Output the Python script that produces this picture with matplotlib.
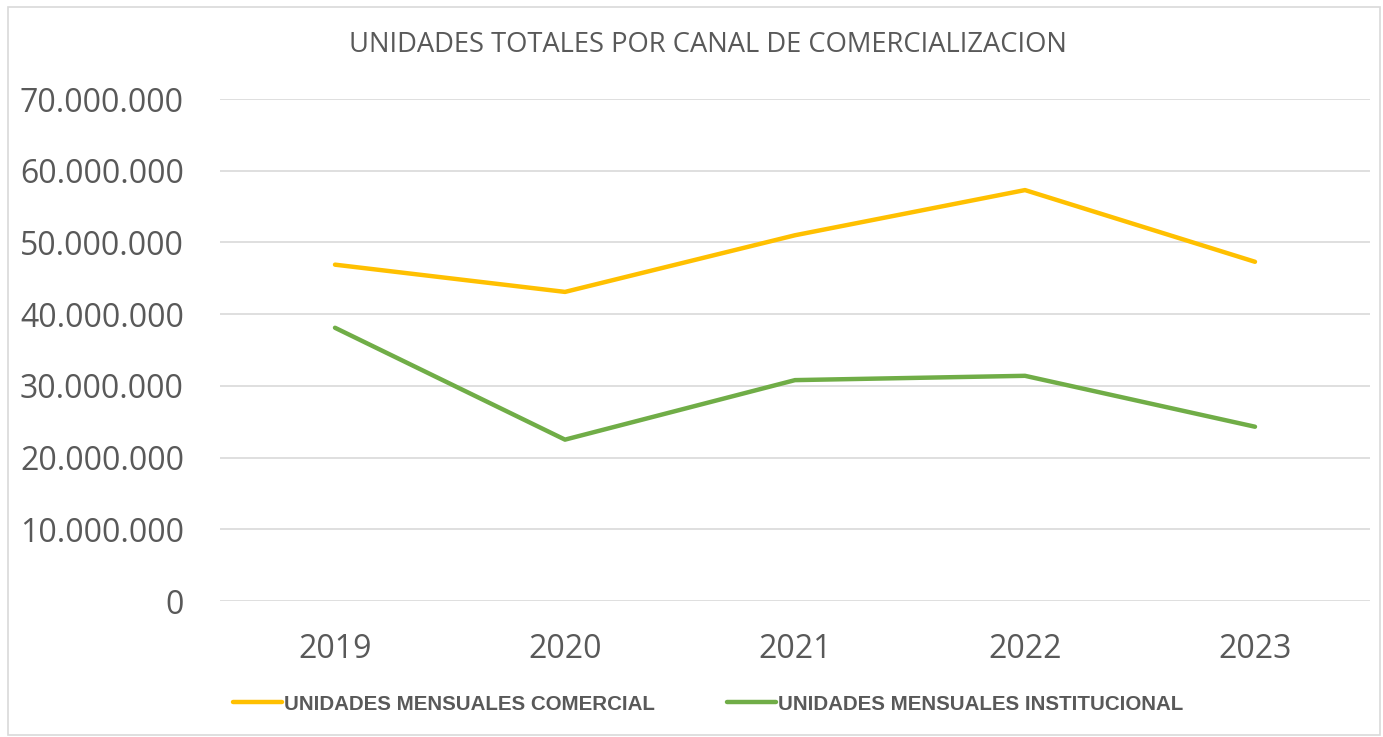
import matplotlib.pyplot as plt
from matplotlib.patches import Rectangle
from matplotlib.ticker import FuncFormatter

# data
years = ['2019', '2020', '2021', '2022', '2023']
comercial = [46900000, 43100000, 51000000, 57300000, 47300000]
institucional = [38100000, 22500000, 30800000, 31400000, 24300000]
yticks = [0, 10000000, 20000000, 30000000, 40000000, 50000000, 60000000, 70000000]

TEXT = '#595959'
GRID = '#D9D9D9'

plt.rcParams['font.family'] = ['Open Sans', 'DejaVu Sans']

fig = plt.figure(figsize=(13.83, 7.37), dpi=100)
W, H = 1383, 737
ax = fig.add_axes([220 / W, 1 - 601 / H, 1150 / W, 502 / H])

# outer chart border
fig.patches.append(Rectangle((8 / W, 2 / H), 1372 / W, 728 / H, transform=fig.transFigure,
                             fill=False, edgecolor=GRID, linewidth=1.2))

x = range(len(years))
ax.plot(x, comercial, color='#FFC000', linewidth=3.2, solid_capstyle='round',
        label='UNIDADES MENSUALES COMERCIAL')
ax.plot(x, institucional, color='#70AD47', linewidth=3.2, solid_capstyle='round',
        label='UNIDADES MENSUALES INSTITUCIONAL')

ax.set_xlim(-0.5, len(years) - 0.5)
ax.set_ylim(0, 70000000)
ax.set_yticks(yticks)
ax.yaxis.set_major_formatter(FuncFormatter(lambda v, p: f'{int(v):,}'.replace(',', '.')))
ax.set_xticks(list(x))
ax.set_xticklabels(years)
ax.grid(axis='y', color=GRID, linewidth=1.2)
ax.set_axisbelow(True)
for s in ax.spines.values():
    s.set_visible(False)
ax.tick_params(axis='both', length=0, colors=TEXT, labelsize=23)
ax.tick_params(axis='y', pad=26)
ax.tick_params(axis='x', pad=23)

fig.text(708 / W, 1 - 45 / H, 'UNIDADES TOTALES POR CANAL DE COMERCIALIZACION',
         ha='center', va='center', fontsize=19.7, color=TEXT)

leg = fig.legend(loc='center', bbox_to_anchor=(708 / W, 1 - 704 / H), ncol=2, frameon=False,
                 handlelength=2.4, handletextpad=0.1, columnspacing=3.5,
                 prop={'family': ['Liberation Sans', 'DejaVu Sans'], 'weight': 'bold', 'size': 14.8})
for t in leg.get_texts():
    t.set_color(TEXT)

fig.savefig('out.png', dpi=100)
